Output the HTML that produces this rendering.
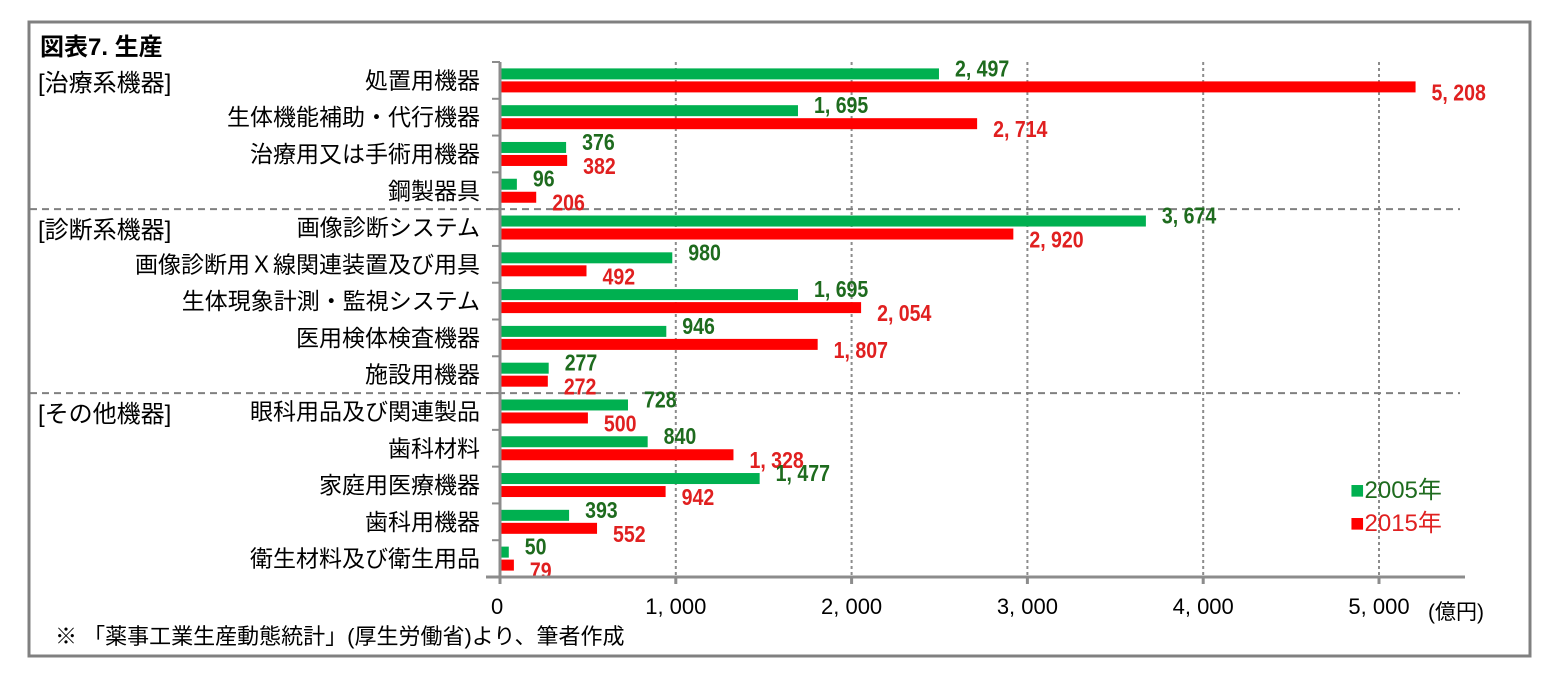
<!DOCTYPE html>
<html><head><meta charset="utf-8"><style>
body{margin:0;background:#fff;width:1565px;height:684px;overflow:hidden;font-family:"Liberation Sans","Noto Sans CJK JP",sans-serif;}
svg text{font-family:"Liberation Sans","Noto Sans CJK JP",sans-serif;}
</style></head><body>
<svg id="chart" width="1565" height="684">
<rect x="29" y="22" width="1501" height="634" fill="none" stroke="#808080" stroke-width="3"/>
<text x="40" y="55" font-size="24" font-weight="bold">図表7.  生産</text>
<text x="38" y="91" font-size="24">[治療系機器]</text>
<text x="38" y="238" font-size="24">[診断系機器]</text>
<text x="38" y="422" font-size="24">[その他機器]</text>
<g id="grid"></g><g id="bars"></g><g id="labels"></g><g id="axes"></g>
<text x="1350" y="498" font-size="24" fill="#1e6b1e"><tspan fill="#00b050">■</tspan>2005年</text>
<text x="1350" y="531" font-size="24" fill="#e02020"><tspan fill="#ff0000">■</tspan>2015年</text>
<text x="1428" y="619" font-size="21">(億円)</text>
<text x="55" y="644" font-size="22">※ 「薬事工業生産動態統計」(厚生労働省)より、筆者作成</text>
</svg>
<script>
const categories=["処置用機器","生体機能補助・代行機器","治療用又は手術用機器","鋼製器具","画像診断システム","画像診断用Ｘ線関連装置及び用具","生体現象計測・監視システム","医用検体検査機器","施設用機器","眼科用品及び関連製品","歯科材料","家庭用医療機器","歯科用機器","衛生材料及び衛生用品"];
const values2005=[2497,1695,376,96,3674,980,1695,946,277,728,840,1477,393,50];
const values2015=[5208,2714,382,206,2920,492,2054,1807,272,500,1328,942,552,79];
const xTicks=[0,1000,2000,3000,4000,5000];
const separatorsAfter=[4,9];
const NS="http://www.w3.org/2000/svg";
const X0=500,XS=0.1758,TOP=62,BOT=577,RIGHT=1465;
const rowH=(BOT-TOP)/categories.length;
const x=v=>X0+v*XS;
const yc=i=>TOP+rowH*(i+0.5);
function mk(tag,attrs,parent,txt){const e=document.createElementNS(NS,tag);for(const k in attrs)e.setAttribute(k,attrs[k]);if(txt!=null)e.textContent=txt;document.getElementById(parent).appendChild(e);return e;}
const fmt=v=>v.toLocaleString('en-US').replace(',', ', ');
xTicks.forEach(t=>{
  if(t>0){const g=mk('line',{x1:x(t),x2:x(t),y1:TOP,y2:BOT,stroke:'#8c8c8c','stroke-width':2,'stroke-dasharray':'3,3'},'grid');
  
  }
  const tk=mk('line',{x1:x(t),x2:x(t),y1:BOT,y2:BOT+7,stroke:'#8c8c8c','stroke-width':3},'axes');
  
  
  const lb=mk('text',{x:x(t)-(t===0?9:0),y:614,'font-size':22,'text-anchor':t===0?'start':'middle'},'axes',fmt(t));
  
  
});
separatorsAfter.forEach(s=>{
  const l=mk('line',{x1:30,x2:1460,y1:TOP+rowH*s,y2:TOP+rowH*s,stroke:'#808080','stroke-width':2,'stroke-dasharray':'7,5'},'grid');
  
  
});
categories.forEach((c,i)=>{
  const cy=yc(i);
  const g=mk('rect',{x:X0,y:cy-12,width:values2005[i]*XS,height:11,fill:'#00b050'},'bars');
  
  
  const r=mk('rect',{x:X0,y:cy+1,width:values2015[i]*XS,height:11,fill:'#ff0000'},'bars');
  
  
  const t=mk('text',{x:480,y:cy+8,'font-size':23,'text-anchor':'end'},'labels',c);
  
  
  const gl=mk('text',{x:x(values2005[i])+16,y:cy-4,'font-size':23,'font-weight':'bold',fill:'#1e6b1e',transform:'scale(0.85,1)'},'labels',fmt(values2005[i]));
  gl.setAttribute('x',(x(values2005[i])+16)/0.85);
  
  
  const rl=mk('text',{x:(x(values2015[i])+16)/0.85,y:cy+20,'font-size':23,'font-weight':'bold',fill:'#e02020',transform:'scale(0.85,1)'},'labels',fmt(values2015[i]));
  
  
  const ct=mk('line',{x1:X0-8,x2:X0,y1:TOP+rowH*i,y2:TOP+rowH*i,stroke:'#8c8c8c','stroke-width':2},'axes');
  
  
});
const ya=mk('line',{x1:X0,x2:X0,y1:TOP,y2:BOT,stroke:'#8c8c8c','stroke-width':3},'axes');


const xa=mk('line',{x1:X0-14,x2:RIGHT,y1:BOT,y2:BOT,stroke:'#8c8c8c','stroke-width':3},'axes');


</script>
</body></html>
